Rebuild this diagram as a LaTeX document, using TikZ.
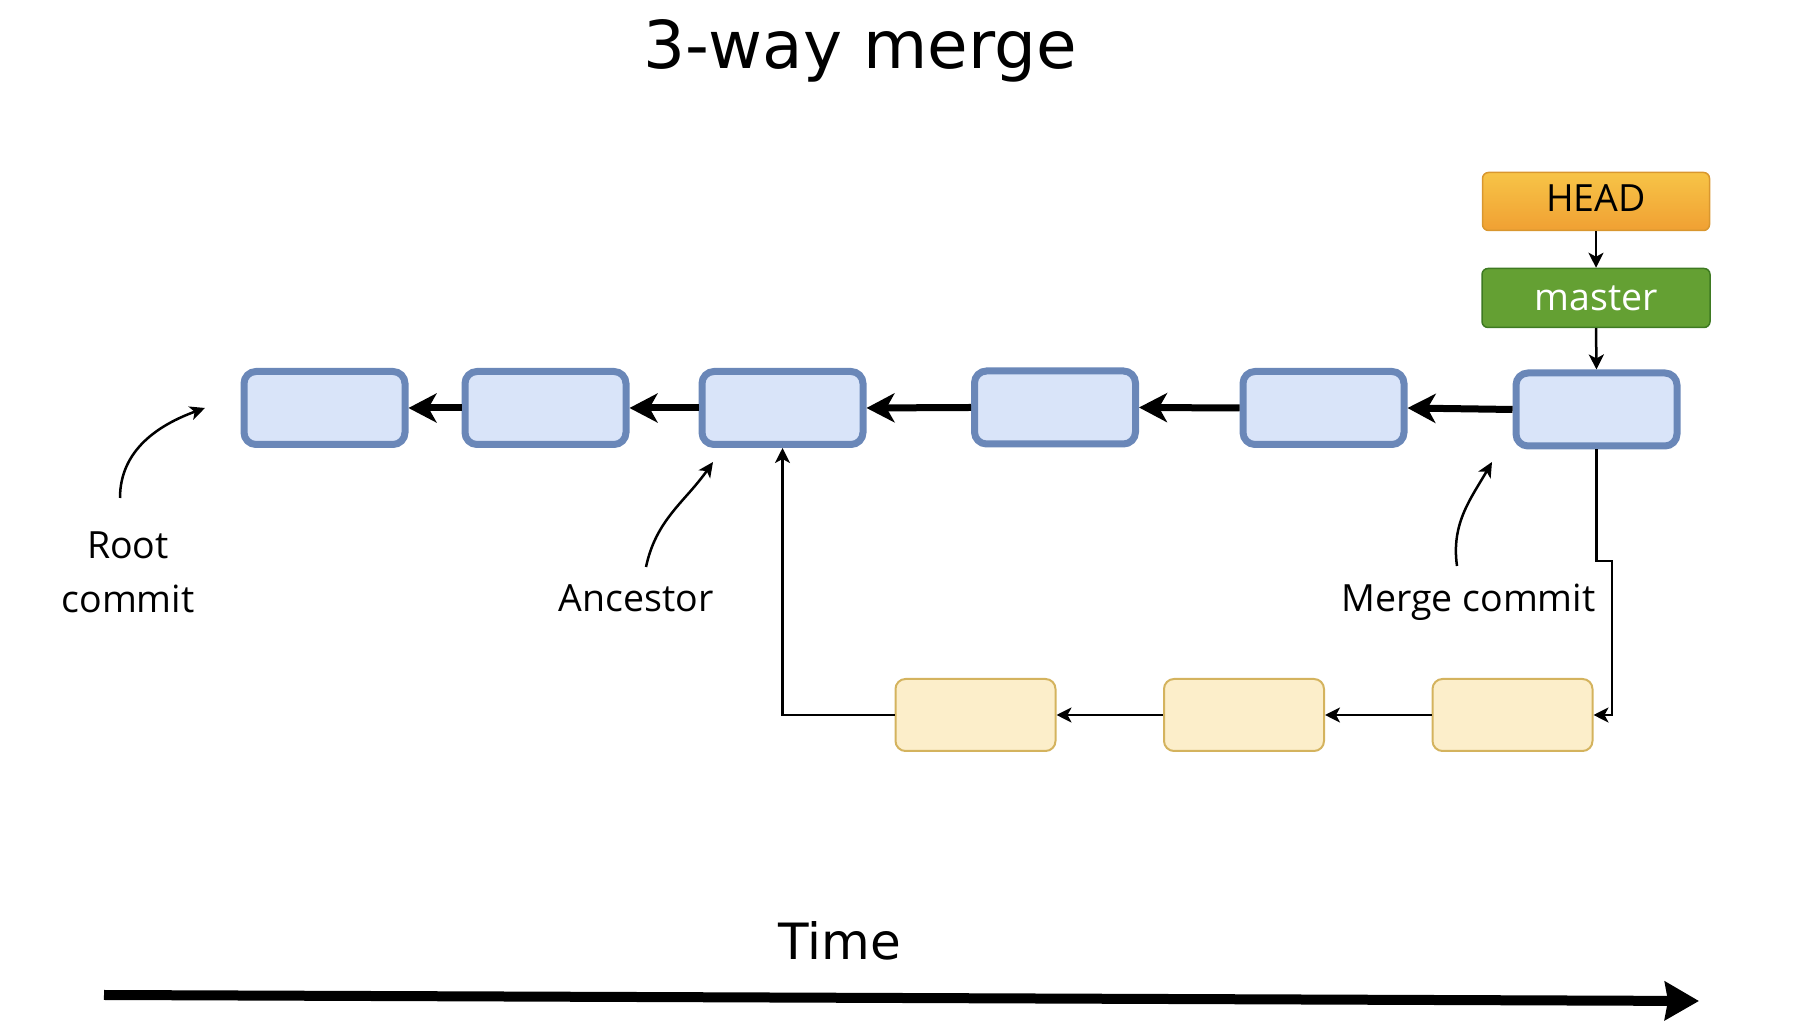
\documentclass[tikz,border=0pt]{standalone}
\usepackage{fontspec}
\setmainfont{Open Sans}
\newfontfamily\titlefont{DejaVu Sans}
\usetikzlibrary{arrows.meta}
\definecolor{commitfill}{HTML}{D9E4F9}
\definecolor{commitline}{HTML}{6A87B8}
\definecolor{featfill}{HTML}{FCEECA}
\definecolor{featline}{HTML}{D4B35E}
\definecolor{headtop}{HTML}{F7C447}
\definecolor{headbottom}{HTML}{F0A033}
\definecolor{headline}{HTML}{D9972F}
\definecolor{masterfill}{HTML}{64A033}
\definecolor{masterline}{HTML}{3E7A22}
\tikzset{commit/.style={draw=commitline,fill=commitfill,line width=7pt,rounded corners=12pt,minimum width=161pt,minimum height=73pt},
         feature/.style={draw=featline,fill=featfill,line width=2pt,rounded corners=10pt,minimum width=160pt,minimum height=72pt},
         headref/.style={draw=headline,top color=headtop,bottom color=headbottom,line width=1.5pt,rounded corners=6pt,minimum width=227pt,minimum height=58pt,text depth=6pt,font=\fontsize{37.5}{44}\selectfont},
         branchref/.style={draw=masterline,fill=masterfill,text=white,line width=1.5pt,rounded corners=6pt,minimum width=228pt,minimum height=59pt,font=\fontsize{37.5}{44}\selectfont},
         parent/.style={line width=7pt,-{Stealth[length=28pt,width=29pt,inset=8pt]}},
         pointer/.style={line width=2.5pt,-{Stealth[length=15pt,width=15pt,inset=4pt]}},
         note/.style={line width=2.5pt,-{Stealth[length=15pt,width=14pt,inset=4pt]}},
         caption/.style={inner sep=0pt,font=\fontsize{37.5}{54}\selectfont},
        }

\begin{document}
\begin{tikzpicture}[x=1pt,y=1pt]
        \useasboundingbox(0,0)rectangle(1799,1027);
        \node[inner sep=0pt,anchor=base,font=\titlefont\fontsize{66}{70}\selectfont](title)at(860,958){3-way merge};

        \node[commit](c1)at(324.5,619){};
        \node[commit](c2)at(545.5,619){};
        \node[commit](c3)at(782.5,619){};
        \node[commit](c4)at(1055,619.5){};
        \node[commit](c5)at(1323.5,619){};
        \node[commit](c6)at(1596.5,617.5){};
        \draw[parent](c2.180)--(c1.0);
        \draw[parent](c3.180)--(c2.0);
        \draw[parent](c4.180)--(c3.0);
        \draw[parent](c5.180)--(c4.0);
        \draw[parent](c6.180)--(c5.0);

        \node[headref](head)at(1596,825.5){HEAD};
        \node[branchref](master)at(1596,729){master};
        \draw[pointer](head.270)--(master.90);
        \draw[pointer](master.270)--(c6.90);

        \node[feature](f1)at(975.5,312){};
        \node[feature](f2)at(1244,312){};
        \node[feature](f3)at(1512.5,312){};
        \draw[pointer](f2.180)--(f1.0);
        \draw[pointer](f3.180)--(f2.0);
        \draw[pointer](f1.180)-|(c3.270);
        \coordinate(jog)at(1612,466);
        \draw[pointer](c6.270)|-(jog)|-(f3.0);

        \node[caption,align=center](rootlabel)at(128,455){Root\\commit};
        \coordinate(roottail)at(120,529);
        \coordinate(roottip)at(205,619);
        \draw[note](roottail)to[out=90,in=200](roottip);

        \node[caption,anchor=base](ancestorlabel)at(636,415){Ancestor};
        \coordinate(ancestortail)at(646,460);
        \coordinate(ancestortip)at(713,565);
        \draw[note](ancestortail)to[out=78,in=235](ancestortip);

        \node[caption,anchor=base](mergelabel)at(1468.5,415){Merge commit};
        \coordinate(mergetail)at(1457,461);
        \coordinate(mergetip)at(1492,565);
        \draw[note](mergetail)to[out=98,in=240](mergetip);

        \node[inner sep=0pt,anchor=base,font=\titlefont\fontsize{50}{56}\selectfont](timelabel)at(840,67){Time};
        \coordinate(timestart)at(104,32);
        \coordinate(timeend)at(1699,26);
        \draw[line width=10pt,-{Stealth[length=34pt,width=38pt,inset=3pt]}](timestart)--(timeend);
    \end{tikzpicture}
\end{document}
